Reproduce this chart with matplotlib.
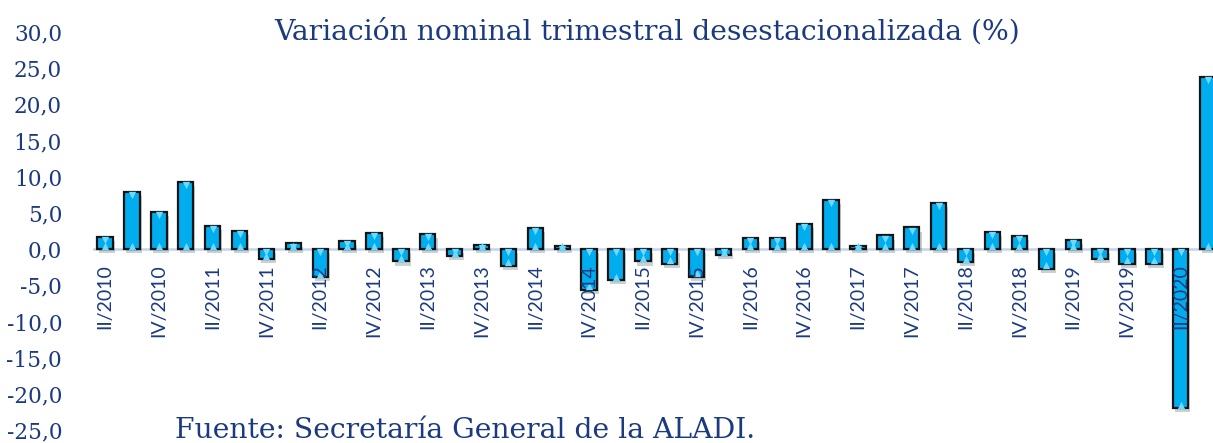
import matplotlib
matplotlib.use("Agg")
import matplotlib.pyplot as plt
import matplotlib.patheffects as pe
import numpy as np

# ---------------------------------------------------------------------------
# Data: quarterly seasonally-adjusted nominal change (%), II/2010 .. III/2020
# ---------------------------------------------------------------------------

QUARTERS = (
    ["II/2010", "III/2010", "IV/2010"]
    + [f"{q}/{y}" for y in range(2011, 2020) for q in ("I", "II", "III", "IV")]
    + ["I/2020", "II/2020", "III/2020"]
)

VALUES = [
    1.7, 7.9, 5.1,
    9.3, 3.2, 2.5, -1.4,
    0.8, -3.9, 1.1, 2.2,
    -1.7, 2.1, -1.0, 0.6,
    -2.3, 2.9, 0.4, -5.6,
    -4.3, -1.7, -2.0, -3.8,
    -0.8, 1.6, 1.5, 3.5,
    6.8, 0.4, 1.9, 3.0,
    6.4, -1.8, 2.4, 1.8,
    -2.7, 1.3, -1.4, -2.0,
    -2.0, -22.0, 23.8,
]

Y_TICKS = [30, 25, 20, 15, 10, 5, 0, -5, -10, -15, -20, -25]

TITLE = "Variación nominal trimestral desestacionalizada (%)"
SOURCE = "Fuente: Secretaría General de la ALADI."

NAVY = "#1c3a80"
BAR = "#00aeef"
BEVEL = "#6fd8ff"

# ---------------------------------------------------------------------------

W, H = 1213, 443
fig = plt.figure(figsize=(W / 100, H / 100), dpi=100)
ax = fig.add_axes([92.7 / W, (H - 430) / H, 1 - 92.7 / W, (430 - 32) / H])

x = np.arange(len(VALUES))
vals = np.array(VALUES)
bars = ax.bar(x, vals, width=0.57, color=BAR, edgecolor="#141414",
              linewidth=1.6, zorder=3)
for b in bars:
    b.set_path_effects([pe.SimplePatchShadow(offset=(1.5, -3), alpha=0.22),
                        pe.Normal()])

# bevel highlights at both ends of each bar
top = np.maximum(vals, 0)
bot = np.minimum(vals, 0)
ax.scatter(x, top - 0.45, marker="v", s=28, color=BEVEL, linewidths=0, zorder=4)
ax.scatter(x, bot + 0.45, marker="^", s=28, color=BEVEL, linewidths=0, zorder=4)

ax.set_xlim(-0.46, 41.2)
ax.set_ylim(-25, 30)

ax.axhline(0, color="#c5d3ee", linewidth=1.8, zorder=2)

for s in ("top", "right", "left", "bottom"):
    ax.spines[s].set_visible(False)

# quarter labels just under the zero line, drawn over the bars
ax.set_xticks([])
for xi, lab in zip(x[::2], QUARTERS[::2]):
    ax.annotate(lab, (xi, 0), xycoords="data", xytext=(0, -11),
                textcoords="offset points", rotation=90, ha="center", va="top",
                fontsize=14, family="Lato", color=NAVY, zorder=6)

ax.set_yticks(Y_TICKS)
ax.set_yticklabels([f"{v:.1f}".replace(".", ",") for v in Y_TICKS],
                   fontsize=15.6, family="DejaVu Serif", color=NAVY)
ax.tick_params(axis="y", length=0, pad=22)

fig.text(647 / W, 1 - 32 / H, TITLE, ha="center", va="center",
         fontsize=20.3, family="DejaVu Serif", color=NAVY)
fig.text(175 / W, 1 - 430 / H, SOURCE, ha="left", va="center",
         fontsize=20.3, family="DejaVu Serif", color=NAVY)

fig.savefig("out.png", dpi=100)
